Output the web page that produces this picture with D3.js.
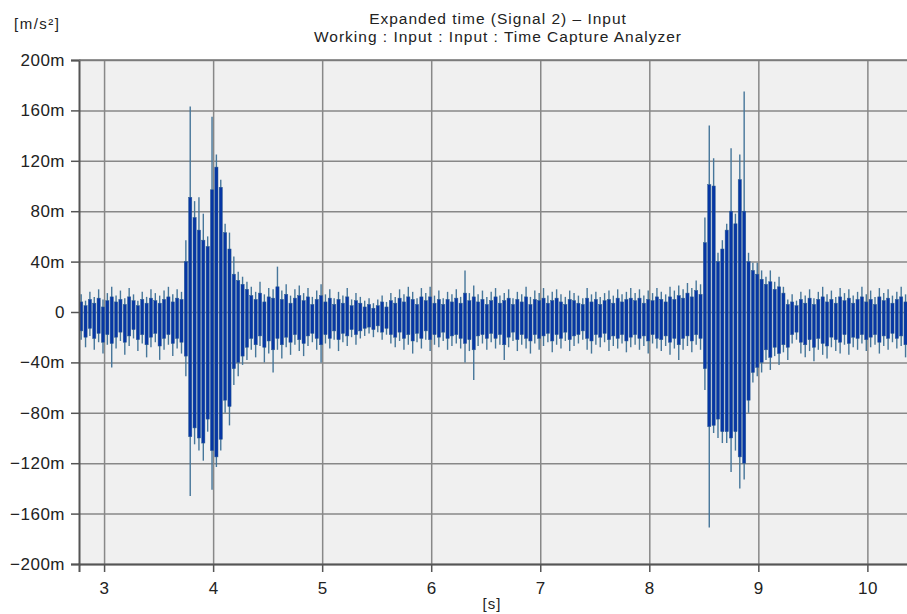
<!DOCTYPE html>
<html>
<head>
<meta charset="utf-8">
<script src="https://cdn.jsdelivr.net/npm/d3@7"></script>
<style>
  html, body { margin: 0; padding: 0; background: #ffffff; }
  svg { display: block; font-family: "Liberation Sans", Arial, sans-serif; }
</style>
</head>
<body>
<div id="chart"></div>
<script>
// time axis of the envelope bins: first bin start and bin width, in seconds
const binStart = 2.77;
const binWidth = 0.04;

// outer peak per bin (upper / lower), in m/s² x 1000
const peakHi = [
  14, 9, 16, 12, 18, 10, 15, 20, 13, 17,
  11, 19, 14, 9, 16, 12, 18, 15, 13, 17,
  20, 14, 18, 16, 57, 163, 88, 91, 78, 60,
  155, 125, 105, 70, 63, 44, 32, 28, 24, 20,
  16, 24, 14, 19, 18, 36, 17, 22, 13, 18,
  21, 15, 19, 12, 17, 22, 14, 18, 11, 16,
  13, 19, 10, 15, 12, 9, 11, 7, 10, 13,
  8, 15, 12, 18, 14, 20, 16, 11, 19, 15,
  20, 13, 17, 11, 16, 14, 18, 12, 33, 15,
  21, 14, 17, 12, 16, 19, 13, 15, 18, 11,
  16, 14, 20, 12, 17, 15, 19, 13, 16, 18,
  14, 12, 17, 15, 13, 11, 19, 14, 16, 12,
  15, 17, 13, 18, 14, 16, 19, 15, 18, 13,
  17, 15, 19, 16, 14, 20, 17, 21, 18, 23,
  19, 25, 22, 75, 148, 122, 47, 57, 70, 130,
  78, 125, 175, 47, 39, 39, 33, 28, 33, 24,
  28, 20, 10, 14, 9, 16, 13, 18, 11, 16,
  20, 14, 17, 12, 19, 15, 18, 13, 16, 20,
  14, 17, 12, 19, 15, 18, 13, 16, 20, 14,
  17
];
const peakLo = [
  -22, -28, -19, -30, -24, -33, -26, -44, -29, -23,
  -34, -27, -21, -31, -25, -36, -28, -24, -38, -30,
  -26, -35, -29, -33, -51, -146, -105, -110, -118, -95,
  -141, -123, -110, -80, -90, -58, -51, -42, -38, -30,
  -36, -27, -40, -33, -48, -30, -37, -28, -34, -26,
  -31, -35, -27, -24, -30, -40, -25, -29, -22, -31,
  -24, -27, -20, -26, -21, -19, -17, -20, -16, -22,
  -18, -25, -28, -23, -30, -26, -33, -24, -29, -22,
  -31, -26, -28, -23, -30, -27, -25, -29, -40, -31,
  -54, -27, -25, -30, -24, -29, -26, -38, -28, -23,
  -31, -26, -29, -33, -25, -30, -27, -24, -32, -26,
  -29, -23, -31, -27, -25, -22, -30, -33, -26, -28,
  -24, -31, -27, -29, -25, -32, -28, -26, -30, -27,
  -33, -25, -29, -31, -27, -34, -29, -38, -30, -27,
  -32, -26, -30, -62, -171, -96, -100, -104, -104, -127,
  -110, -140, -133, -80, -56, -51, -48, -38, -46, -35,
  -42, -32, -38, -25, -22, -33, -36, -31, -39, -30,
  -34, -37, -28, -31, -33, -26, -34, -28, -30, -25,
  -31, -28, -26, -33, -27, -30, -24, -29, -27, -36,
  -30
];
// dark core per bin (upper / lower), in m/s² x 1000
const coreHi = [
  8, 5, 10, 7, 11, 4, 9, 12, 8, 10,
  6, 12, 9, 5, 10, 7, 11, 9, 7, 10,
  12, 8, 11, 10, 40, 91, 75, 65, 57, 52,
  97, 115, 99, 63, 50, 30, 25, 22, 18, 13,
  10, 15, 8, 12, 11, 20, 10, 14, 7, 11,
  13, 9, 12, 6, 10, 13, 8, 11, 6, 10,
  7, 12, 5, 9, 7, 4, 6, 3, 5, 8,
  4, 9, 7, 11, 8, 12, 10, 6, 12, 9,
  12, 7, 10, 6, 10, 8, 11, 7, 15, 9,
  12, 8, 10, 6, 9, 12, 7, 9, 11, 6,
  10, 8, 12, 6, 10, 9, 11, 7, 9, 11,
  8, 6, 10, 9, 7, 6, 11, 8, 10, 6,
  9, 10, 7, 11, 8, 10, 11, 9, 11, 7,
  10, 9, 12, 10, 8, 12, 10, 13, 11, 15,
  12, 17, 14, 55, 101, 100, 40, 50, 65, 80,
  70, 105, 80, 40, 33, 30, 26, 22, 24, 18,
  20, 15, 6, 8, 5, 10, 7, 11, 6, 10,
  12, 8, 10, 7, 12, 9, 11, 7, 10, 12,
  8, 10, 6, 12, 9, 11, 7, 10, 12, 8,
  10
];
const coreLo = [
  -15, -20, -13, -21, -17, -24, -18, -25, -20, -16,
  -24, -19, -14, -22, -18, -26, -20, -17, -27, -21,
  -18, -25, -21, -24, -35, -99, -92, -100, -104, -85,
  -110, -115, -101, -70, -75, -45, -40, -35, -28, -21,
  -26, -19, -28, -23, -30, -21, -26, -20, -24, -18,
  -22, -25, -19, -17, -21, -26, -18, -21, -15, -22,
  -17, -19, -14, -18, -15, -13, -12, -14, -11, -16,
  -13, -18, -20, -16, -21, -18, -23, -17, -21, -15,
  -22, -18, -20, -16, -21, -19, -18, -21, -25, -22,
  -30, -19, -18, -21, -17, -21, -18, -26, -20, -16,
  -22, -18, -21, -23, -18, -21, -19, -17, -23, -18,
  -21, -16, -22, -19, -18, -15, -21, -23, -18, -20,
  -17, -22, -19, -21, -18, -23, -20, -18, -21, -19,
  -23, -18, -21, -22, -19, -24, -21, -26, -21, -19,
  -23, -18, -21, -45, -91, -90, -85, -95, -95, -100,
  -95, -115, -120, -70, -48, -44, -40, -30, -36, -28,
  -33, -26, -28, -18, -16, -24, -26, -22, -28, -21,
  -25, -27, -20, -22, -24, -18, -25, -20, -21, -18,
  -22, -20, -18, -24, -19, -21, -17, -21, -19, -26,
  -21
];

const xTickValues = [3, 4, 5, 6, 7, 8, 9, 10];
const yTickValues = [-200, -160, -120, -80, -40, 0, 40, 80, 120, 160, 200];

const titleLines = ["Expanded time (Signal 2) \u2013 Input", "Working : Input : Input : Time Capture Analyzer"];
const yUnit = "[m/s\u00b2]";
const xUnit = "[s]";

const config = {
  width: 907,
  height: 614,
  margin: { top: 60, right: -4, bottom: 50, left: 79 }
};

const innerW = config.width - config.margin.left - config.margin.right;
const innerH = config.height - config.margin.top - config.margin.bottom;

const svg = d3.select("#chart")
  .append("svg")
  .attr("width", config.width)
  .attr("height", config.height);

const g = svg.append("g")
  .attr("transform", `translate(${config.margin.left},${config.margin.top})`);

const xScale = d3.scaleLinear().domain([2.77, 10.4]).range([0, innerW]);
const yScale = d3.scaleLinear().domain([-200, 200]).range([innerH, 0]);

// plot background
g.append("rect")
  .attr("width", innerW)
  .attr("height", innerH)
  .attr("fill", "#f0f0f0");

// grid
g.append("g")
  .attr("class", "grid")
  .call(d3.axisLeft(yScale).tickValues(yTickValues).tickSize(-innerW).tickFormat(""))
  .call(s => s.select(".domain").remove())
  .call(s => s.selectAll("line").attr("stroke", "#888").attr("stroke-width", 1.5));

g.append("g")
  .attr("class", "grid")
  .attr("transform", `translate(0,${innerH})`)
  .call(d3.axisBottom(xScale).tickValues(xTickValues).tickSize(-innerH).tickFormat(""))
  .call(s => s.select(".domain").remove())
  .call(s => s.selectAll("line").attr("stroke", "#888").attr("stroke-width", 1.5));

// signal envelope
const bins = peakHi.map((d, i) => ({
  t: binStart + binWidth * (i + 0.5),
  hi: d,
  lo: peakLo[i],
  cHi: coreHi[i],
  cLo: coreLo[i]
}));

g.append("clipPath").attr("id", "plotClip")
  .append("rect").attr("width", innerW).attr("height", innerH);

const sig = g.append("g").attr("clip-path", "url(#plotClip)");

sig.selectAll(".spike")
  .data(bins)
  .enter()
  .append("line")
  .attr("class", "spike")
  .attr("x1", d => xScale(d.t))
  .attr("x2", d => xScale(d.t))
  .attr("y1", d => yScale(d.hi))
  .attr("y2", d => yScale(d.lo))
  .attr("stroke", "#46769a")
  .attr("stroke-width", 1.4);

const barW = 3.2;
sig.selectAll(".core")
  .data(bins)
  .enter()
  .append("rect")
  .attr("class", "core")
  .attr("x", d => xScale(d.t) - barW / 2)
  .attr("y", d => yScale(d.cHi))
  .attr("width", barW)
  .attr("height", d => yScale(d.cLo) - yScale(d.cHi))
  .attr("fill", "#0636a4")
  .attr("stroke", "#2f5f92")
  .attr("stroke-width", 0.5);

// axes
const fmtY = d => d === 0 ? "0" : (d < 0 ? "\u2212" : "") + Math.abs(d) + "m";

const yAxisG = g.append("g")
  .call(d3.axisLeft(yScale).tickValues(yTickValues).tickSize(8).tickPadding(6).tickFormat(fmtY));
const xAxisG = g.append("g")
  .attr("transform", `translate(0,${innerH})`)
  .call(d3.axisBottom(xScale).tickValues(xTickValues).tickSize(8).tickPadding(10));

[yAxisG, xAxisG].forEach(a => {
  a.select(".domain").attr("stroke", "#555").attr("stroke-width", 2);
  a.selectAll(".tick line").attr("stroke", "#555").attr("stroke-width", 1.5);
  a.selectAll(".tick text")
    .attr("fill", "#222")
    .style("font-size", "17px")
    .style("letter-spacing", "0.5px")
    .style("font-family", "'Liberation Sans', Arial, sans-serif");
});

// top border of the plot
g.append("line")
  .attr("x1", 0).attr("x2", innerW)
  .attr("y1", 0).attr("y2", 0)
  .attr("stroke", "#777").attr("stroke-width", 1.5);

// titles and units
svg.selectAll(".title")
  .data(titleLines)
  .enter()
  .append("text")
  .attr("class", "title")
  .attr("x", 498)
  .attr("y", (d, i) => 24 + i * 18)
  .attr("text-anchor", "middle")
  .attr("fill", "#222")
  .style("font-size", "15.5px")
  .style("letter-spacing", "1px")
  .text(d => d);

svg.append("text")
  .attr("x", 14)
  .attr("y", 29)
  .attr("fill", "#222")
  .style("font-size", "15px")
  .style("letter-spacing", "1.5px")
  .text(yUnit);

svg.append("text")
  .attr("x", 492)
  .attr("y", 609)
  .attr("text-anchor", "middle")
  .attr("fill", "#222")
  .style("font-size", "15px")
  .style("letter-spacing", "1px")
  .text(xUnit);
</script>
</body>
</html>
